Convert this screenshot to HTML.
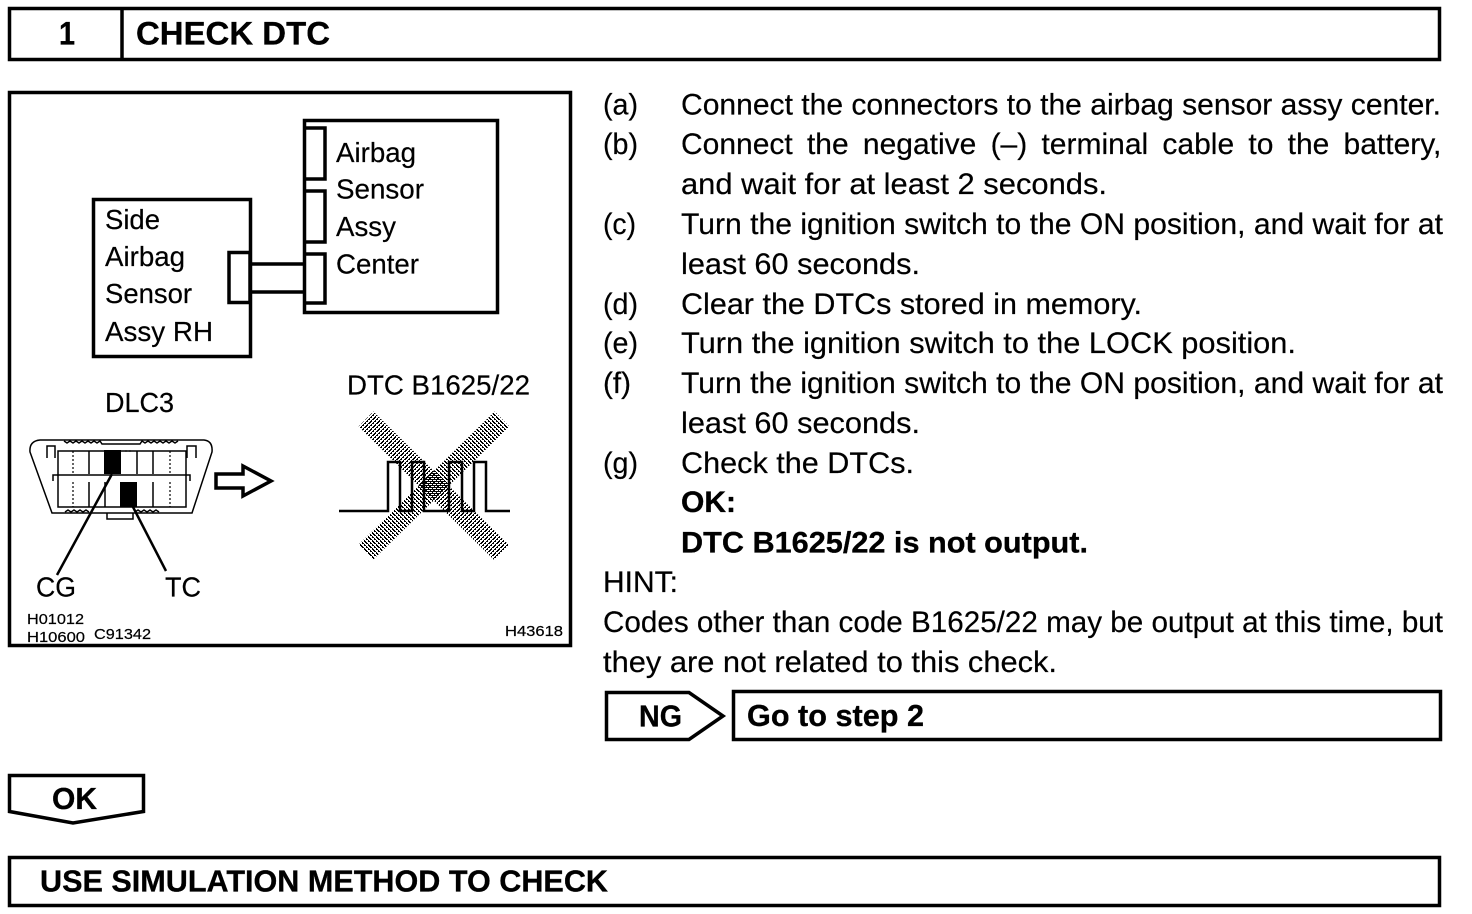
<!DOCTYPE html>
<html><head><meta charset="utf-8"><style>
html,body{margin:0;padding:0;background:#fff;width:1472px;height:914px;overflow:hidden}
svg{display:block}
text{font-family:"Liberation Sans",Arial,sans-serif;fill:#000;stroke:#000;stroke-width:.2}
.b{font-size:30px}
.d{font-size:28px}
.s{font-size:15px;stroke-width:.15}
.h{font-weight:bold;stroke-width:.3}
.box{fill:none;stroke:#000;stroke-width:3.5}
.thin{fill:none;stroke:#000;stroke-width:1.5}
.dot{fill:none;stroke:#000;stroke-width:1.2;stroke-dasharray:2 2}
</style></head><body>
<svg width="1472" height="914" viewBox="0 0 1472 914" xmlns="http://www.w3.org/2000/svg">
<defs>
<pattern id="h1" width="8" height="8" patternUnits="userSpaceOnUse" shape-rendering="crispEdges">
<path fill="#000" d="M0 0h1v1h-1zM3 0h2v1h-2zM7 0h1v1h-1zM2 1h2v1h-2zM6 1h2v1h-2zM1 2h2v1h-2zM5 2h2v1h-2zM0 3h2v1h-2zM4 3h2v1h-2zM0 4h1v1h-1zM3 4h2v1h-2zM7 4h1v1h-1zM2 5h2v1h-2zM6 5h2v1h-2zM1 6h2v1h-2zM5 6h2v1h-2zM0 7h2v1h-2zM4 7h2v1h-2z"/>
<path fill="#fff" d="M0 0h1v1h-1zM2 2h1v1h-1zM4 4h1v1h-1zM6 6h1v1h-1zM4 0h1v1h-1zM0 4h1v1h-1z"/>
</pattern>
<pattern id="h2" width="8" height="8" patternUnits="userSpaceOnUse" patternTransform="scale(-1 1)" shape-rendering="crispEdges">
<path fill="#000" d="M0 0h1v1h-1zM3 0h2v1h-2zM7 0h1v1h-1zM2 1h2v1h-2zM6 1h2v1h-2zM1 2h2v1h-2zM5 2h2v1h-2zM0 3h2v1h-2zM4 3h2v1h-2zM0 4h1v1h-1zM3 4h2v1h-2zM7 4h1v1h-1zM2 5h2v1h-2zM6 5h2v1h-2zM1 6h2v1h-2zM5 6h2v1h-2zM0 7h2v1h-2zM4 7h2v1h-2z"/>
<path fill="#fff" d="M0 0h1v1h-1zM2 2h1v1h-1zM4 4h1v1h-1zM6 6h1v1h-1zM4 0h1v1h-1zM0 4h1v1h-1z"/>
</pattern>
</defs>
<!-- header -->
<rect class="box" x="9.5" y="8.5" width="1430" height="51"/>
<line class="box" x1="122" y1="8" x2="122" y2="60"/>
<text class="h" x="59" y="44.5" font-size="32" textLength="16" lengthAdjust="spacingAndGlyphs">1</text>
<text class="h" x="136" y="44.5" font-size="32" textLength="194" lengthAdjust="spacingAndGlyphs">CHECK DTC</text>

<!-- diagram frame -->
<rect class="box" x="9.5" y="92.5" width="561" height="553"/>
<rect class="box" x="93.5" y="199.5" width="157" height="157"/>
<rect class="box" x="304.5" y="120.5" width="193" height="192"/>
<rect class="box" x="229" y="252.5" width="21" height="50"/>
<line class="box" x1="250" y1="264" x2="306" y2="264"/>
<line class="box" x1="250" y1="292" x2="306" y2="292"/>
<path class="box" d="M304 128H325V179H304M304 191H325V242H304M304 254H325V303H304"/>
<g class="d">
<text x="336" y="162" textLength="80" lengthAdjust="spacingAndGlyphs">Airbag</text>
<text x="336" y="198.5" textLength="88" lengthAdjust="spacingAndGlyphs">Sensor</text>
<text x="336" y="236" textLength="60" lengthAdjust="spacingAndGlyphs">Assy</text>
<text x="336" y="273.5" textLength="83" lengthAdjust="spacingAndGlyphs">Center</text>
<text x="105" y="229" textLength="55" lengthAdjust="spacingAndGlyphs">Side</text>
<text x="105" y="266" textLength="80" lengthAdjust="spacingAndGlyphs">Airbag</text>
<text x="105" y="303" textLength="87" lengthAdjust="spacingAndGlyphs">Sensor</text>
<text x="105" y="341" textLength="108" lengthAdjust="spacingAndGlyphs">Assy RH</text>
<text x="105" y="412" textLength="69" lengthAdjust="spacingAndGlyphs">DLC3</text>
<text x="347" y="394.5" textLength="183" lengthAdjust="spacingAndGlyphs">DTC B1625/22</text>
<text x="36" y="596.5" textLength="40" lengthAdjust="spacingAndGlyphs">CG</text>
<text x="165" y="596.5" textLength="36" lengthAdjust="spacingAndGlyphs">TC</text>
</g>
<g class="s">
<text x="27" y="624" textLength="57" lengthAdjust="spacingAndGlyphs">H01012</text>
<text x="27" y="642" textLength="58" lengthAdjust="spacingAndGlyphs">H10600</text>
<text x="94" y="639" textLength="57" lengthAdjust="spacingAndGlyphs">C91342</text>
<text x="505" y="636" textLength="58" lengthAdjust="spacingAndGlyphs">H43618</text>
</g>

<!-- DLC3 -->
<path class="thin" d="M40 440H64M178 440H204Q213 441 212 452L192 513H52L30 452Q29 441 40 440Z"/>
<path class="thin" d="M64 441l3 2l3-2l3 2l3-2l3 2l3-2l3 2l3-2l3 2l3-2l3 2l3-2l2 3H140l2-3l3 2l3-2l3 2l3-2l3 2l3-2l3 2l3-2l3 2l3-2l3 2l3-2"/>
<path class="thin" d="M65 512l3-2l3 2l3-2l3 2l3-2l3 2l3-2l3 2M135 512l3-2l3 2l3-2l3 2l3-2l3 2l3-2l3 2"/>
<path class="thin" d="M47 458V446H55V458M187 458V446H196V458"/>
<path class="thin" d="M58 482V451H186V482M58 482V507H186V482"/>
<path class="thin" d="M53 481V475H190V481"/>
<path class="thin" d="M89 451V474M137 451V474M153 451V474M89 482V507M105 482V507M153 482V507"/>
<path class="dot" d="M73 451V474M170 451V474M73 482V507M170 482V507M125 451H133"/>
<rect x="104" y="450" width="17" height="24"/>
<rect x="120" y="482" width="17" height="25"/>
<path class="thin" stroke-width="2" d="M107 513V519H133V513"/>
<line x1="112" y1="474" x2="57" y2="575" stroke="#000" stroke-width="2.5"/>
<line x1="133" y1="507" x2="166" y2="571" stroke="#000" stroke-width="2.5"/>
<path fill="none" stroke="#000" stroke-width="3.5" d="M216 474H243V466L271 481L243 496V488H216Z"/>

<!-- crossed-out pulses -->
<line x1="366" y1="419" x2="502" y2="553" stroke="url(#h1)" stroke-width="21"/>
<line x1="366" y1="552" x2="502" y2="419" stroke="url(#h2)" stroke-width="21"/>
<path fill="none" stroke="#000" stroke-width="2.5" d="M339 511H388V462H400V511H412V462H424V511H449V462H462V511H474V462H486V511H510"/>

<!-- body text -->
<g class="b">
<text x="603" y="114.5" textLength="35" lengthAdjust="spacingAndGlyphs">(a)</text>
<text x="681" y="114.5" textLength="760" lengthAdjust="spacingAndGlyphs">Connect the connectors to the airbag sensor assy center.</text>
<text x="603" y="154" textLength="35" lengthAdjust="spacingAndGlyphs">(b)</text>
<text x="681" y="154" word-spacing="5.9">Connect the negative (–) terminal cable to the battery,</text>
<text x="681" y="194" textLength="426" lengthAdjust="spacingAndGlyphs">and wait for at least 2 seconds.</text>
<text x="603" y="234" textLength="33" lengthAdjust="spacingAndGlyphs">(c)</text>
<text x="681" y="234" textLength="762" lengthAdjust="spacingAndGlyphs">Turn the ignition switch to the ON position, and wait for at</text>
<text x="681" y="274" textLength="239" lengthAdjust="spacingAndGlyphs">least 60 seconds.</text>
<text x="603" y="314" textLength="35" lengthAdjust="spacingAndGlyphs">(d)</text>
<text x="681" y="314" textLength="461" lengthAdjust="spacingAndGlyphs">Clear the DTCs stored in memory.</text>
<text x="603" y="353" textLength="35" lengthAdjust="spacingAndGlyphs">(e)</text>
<text x="681" y="353" textLength="615" lengthAdjust="spacingAndGlyphs">Turn the ignition switch to the LOCK position.</text>
<text x="603" y="393" textLength="28" lengthAdjust="spacingAndGlyphs">(f)</text>
<text x="681" y="393" textLength="762" lengthAdjust="spacingAndGlyphs">Turn the ignition switch to the ON position, and wait for at</text>
<text x="681" y="433" textLength="239" lengthAdjust="spacingAndGlyphs">least 60 seconds.</text>
<text x="603" y="473" textLength="35" lengthAdjust="spacingAndGlyphs">(g)</text>
<text x="681" y="473" textLength="233" lengthAdjust="spacingAndGlyphs">Check the DTCs.</text>
<text class="h" x="681" y="512" textLength="55" lengthAdjust="spacingAndGlyphs">OK:</text>
<text class="h" x="681" y="552.5" textLength="407" lengthAdjust="spacingAndGlyphs">DTC B1625/22 is not output.</text>
<text x="603" y="592" textLength="75" lengthAdjust="spacingAndGlyphs">HINT:</text>
<text x="603" y="632" textLength="840" lengthAdjust="spacingAndGlyphs">Codes other than code B1625/22 may be output at this time, but</text>
<text x="603" y="672" textLength="454" lengthAdjust="spacingAndGlyphs">they are not related to this check.</text>
</g>

<!-- NG -->
<path class="box" d="M606.5 692.5H689L723 716L689 739.5H606.5Z"/>
<text class="h" font-size="31" x="639" y="726.5" textLength="43" lengthAdjust="spacingAndGlyphs">NG</text>
<rect class="box" x="733.5" y="691.5" width="707" height="48"/>
<text class="h" font-size="31" x="747" y="726" textLength="177" lengthAdjust="spacingAndGlyphs">Go to step 2</text>

<!-- OK -->
<path class="box" d="M9.5 775.5H143.5V811.5L73 823L9.5 811.5Z"/>
<text class="h" font-size="31" x="52" y="809" textLength="45" lengthAdjust="spacingAndGlyphs">OK</text>

<!-- footer -->
<rect class="box" x="9.5" y="857.5" width="1430" height="48"/>
<text class="h" font-size="31" x="40" y="891.5" textLength="568" lengthAdjust="spacingAndGlyphs">USE SIMULATION METHOD TO CHECK</text>
</svg>
</body></html>
